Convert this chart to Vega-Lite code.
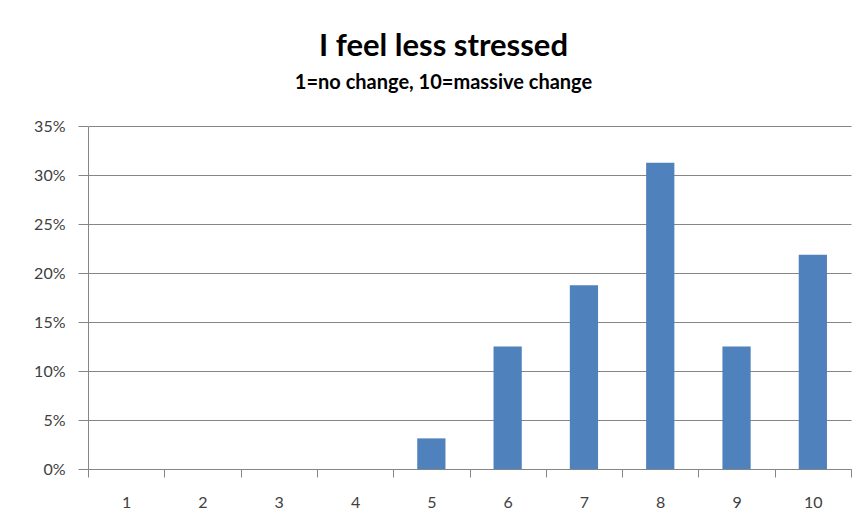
{
  "$schema": "https://vega.github.io/schema/vega-lite/v6.json",
  "width": 763,
  "height": 343,
  "autosize": {"type": "none"},
  "padding": {"left": 88, "top": 126, "right": 15, "bottom": 60},
  "background": "white",
  "title": {
    "text": "I feel less stressed",
    "subtitle": "1=no change, 10=massive change",
    "anchor": "middle",
    "dx": -26,
    "font": "Lato",
    "fontSize": 31,
    "fontWeight": "bold",
    "color": "#000000",
    "subtitleFont": "Lato",
    "subtitleFontSize": 20,
    "subtitleFontWeight": "bold",
    "subtitleColor": "#000000",
    "subtitlePadding": 10,
    "offset": 24
  },
  "data": {
    "values": [
      {"rating": "1", "share": 0},
      {"rating": "2", "share": 0},
      {"rating": "3", "share": 0},
      {"rating": "4", "share": 0},
      {"rating": "5", "share": 0.03125},
      {"rating": "6", "share": 0.125},
      {"rating": "7", "share": 0.1875},
      {"rating": "8", "share": 0.3125},
      {"rating": "9", "share": 0.125},
      {"rating": "10", "share": 0.21875}
    ]
  },
  "mark": {"type": "bar", "color": "#4F81BD", "width": {"band": 0.37}},
  "encoding": {
    "x": {
      "field": "rating",
      "type": "ordinal",
      "sort": null,
      "scale": {"paddingInner": 0, "paddingOuter": 0},
      "axis": {
        "title": null,
        "labelAngle": 0,
        "labelFont": "Lato",
        "labelFontSize": 16,
        "labelColor": "#404040",
        "labelPadding": 17,
        "tickBand": "extent",
        "ticks": true,
        "tickSize": 8,
        "tickColor": "#868686",
        "domainColor": "#868686",
        "domainWidth": 1,
        "grid": false
      }
    },
    "y": {
      "field": "share",
      "type": "quantitative",
      "scale": {"domain": [0, 0.35], "nice": false},
      "axis": {
        "title": null,
        "format": ".0%",
        "values": [0, 0.05, 0.1, 0.15, 0.2, 0.25, 0.3, 0.35],
        "labelFont": "Lato",
        "labelFontSize": 16,
        "labelColor": "#404040",
        "labelPadding": 13,
        "tickSize": 10,
        "tickColor": "#868686",
        "domainColor": "#868686",
        "grid": true,
        "gridColor": "#868686",
        "gridWidth": 1
      }
    }
  },
  "config": {
    "view": {"stroke": null},
    "axis": {"tickWidth": 1}
  }
}
